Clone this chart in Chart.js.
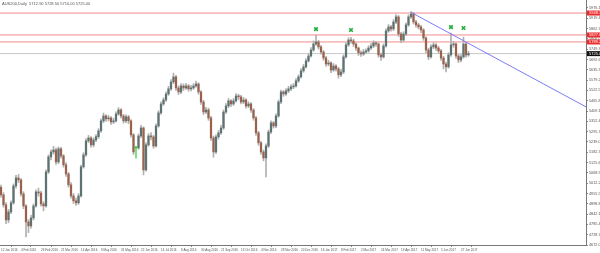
<!DOCTYPE html>
<html>
<head>
<meta charset="utf-8">
<script src="https://cdn.jsdelivr.net/npm/chart.js@4.4.1/dist/chart.umd.min.js"></script>
<style>
  html, body { margin: 0; padding: 0; background: #fff; }
  #wrap { width: 600px; height: 253px; }
</style>
</head>
<body>
<div id="wrap"><canvas id="myChart" width="600" height="253"></canvas></div>
<script>
// AUS200 daily, 2-day candles
const symbolTitle = 'AUS200,Daily  5712.90 5728.50 5710.00 5725.00';

const opens = [
  4990,4948,4893,4810,4854,4904,4997,5041,5030,4953,
  4887,4799,4777,4821,4887,4964,4958,4898,4887,5074,
  5157,5184,5195,5129,5201,5162,5113,5063,5003,4942,
  4915,4904,4942,5102,5168,5245,5261,5223,5250,5268,
  5300,5355,5382,5366,5371,5349,5355,5393,5415,5382,
  5355,5377,5355,5278,5206,5206,5272,5316,5085,5223,
  5272,5267,5217,5327,5399,5448,5470,5503,5531,5569,
  5597,5536,5514,5547,5536,5547,5531,5536,5547,5558,
  5514,5459,5404,5415,5371,5261,5184,5267,5289,5316,
  5404,5437,5465,5448,5465,5492,5487,5459,5470,5437,
  5448,5415,5371,5289,5234,5184,5151,5217,5294,5344,
  5327,5382,5459,5514,5503,5520,5531,5542,5547,5575,
  5597,5630,5652,5685,5712,5745,5778,5789,5762,5734,
  5701,5668,5674,5635,5657,5641,5608,5624,5707,5773,
  5800,5795,5778,5756,5729,5723,5734,5740,5756,5767,
  5784,5778,5718,5707,5767,5850,5872,5861,5899,5927,
  5833,5800,5833,5883,5927,5943,5899,5883,5872,5855,
  5811,5745,5707,5762,5773,5756,5740,5701,5668,5652,
  5718,5773,5778,5712,5690,5707,5778,5718
];
const closes = [
  4948,4893,4810,4854,4904,4997,5041,5030,4953,4887,
  4799,4777,4821,4887,4964,4958,4898,4887,5074,5157,
  5184,5195,5129,5201,5162,5113,5063,5003,4942,4915,
  4904,4942,5102,5168,5245,5261,5223,5250,5268,5300,
  5355,5382,5366,5371,5349,5355,5393,5415,5382,5355,
  5377,5355,5278,5184,5206,5272,5316,5085,5223,5272,
  5267,5217,5327,5399,5448,5470,5503,5531,5569,5597,
  5536,5514,5547,5536,5547,5531,5536,5547,5558,5514,
  5459,5404,5415,5371,5261,5184,5267,5289,5316,5404,
  5437,5465,5448,5465,5492,5487,5459,5470,5437,5448,
  5415,5371,5289,5234,5184,5151,5217,5294,5344,5327,
  5382,5459,5514,5503,5520,5531,5542,5547,5575,5597,
  5630,5652,5685,5712,5745,5778,5789,5762,5734,5701,
  5668,5674,5635,5657,5641,5608,5624,5707,5773,5800,
  5795,5778,5756,5729,5723,5734,5740,5756,5767,5784,
  5778,5718,5707,5767,5850,5872,5861,5899,5927,5833,
  5800,5833,5883,5927,5943,5899,5883,5872,5855,5811,
  5745,5707,5762,5773,5756,5740,5701,5668,5652,5718,
  5773,5778,5712,5690,5707,5778,5718,5725
];
const highs = [
  5002,4960,4905,4868,4915,5008,5055,5060,5038,4965,
  4895,4812,4835,4898,4975,4985,4968,4910,5085,5168,
  5196,5215,5205,5212,5210,5170,5125,5072,5015,4955,
  4930,4955,5112,5180,5258,5275,5268,5262,5280,5312,
  5366,5398,5390,5385,5378,5370,5405,5428,5422,5390,
  5388,5385,5362,5285,5215,5283,5330,5322,5235,5285,
  5290,5275,5338,5410,5460,5482,5515,5545,5582,5618,
  5605,5548,5560,5558,5562,5555,5550,5560,5574,5565,
  5522,5468,5430,5425,5380,5272,5278,5302,5330,5415,
  5450,5478,5472,5478,5505,5502,5495,5484,5478,5460,
  5455,5422,5380,5298,5242,5195,5228,5305,5355,5352,
  5394,5470,5525,5522,5532,5545,5555,5560,5588,5608,
  5642,5665,5698,5725,5758,5795,5827,5798,5770,5742,
  5710,5688,5680,5670,5665,5650,5640,5718,5785,5812,
  5815,5805,5785,5762,5740,5748,5752,5768,5780,5796,
  5792,5785,5728,5778,5862,5885,5880,5912,5940,5935,
  5842,5845,5895,5938,5956,5950,5908,5892,5880,5862,
  5818,5755,5775,5786,5780,5765,5748,5710,5678,5730,
  5838,5792,5785,5720,5720,5816,5785,5738
];
const lows = [
  4935,4880,4790,4795,4845,4896,4985,5015,4940,4872,
  4716,4740,4765,4810,4880,4940,4885,4860,4880,5065,
  5140,5172,5115,5120,5150,5100,5050,4990,4930,4900,
  4890,4895,4935,5095,5160,5235,5210,5212,5240,5258,
  5292,5345,5352,5355,5335,5340,5348,5385,5370,5342,
  5345,5340,5265,5170,5150,5198,5262,5058,5078,5215,
  5250,5205,5210,5320,5390,5440,5462,5495,5522,5560,
  5522,5500,5505,5522,5528,5518,5520,5528,5540,5502,
  5445,5390,5395,5358,5248,5155,5175,5255,5280,5308,
  5395,5428,5435,5440,5458,5472,5448,5450,5425,5428,
  5402,5358,5275,5220,5170,5135,5046,5208,5285,5315,
  5318,5375,5450,5490,5495,5510,5522,5532,5540,5566,
  5590,5622,5645,5678,5705,5738,5770,5750,5722,5688,
  5655,5658,5620,5628,5628,5590,5598,5615,5700,5765,
  5782,5765,5742,5715,5710,5715,5725,5732,5748,5758,
  5765,5705,5688,5700,5760,5842,5848,5852,5890,5820,
  5785,5792,5825,5875,5918,5888,5870,5860,5840,5798,
  5730,5692,5700,5752,5742,5728,5688,5640,5624,5645,
  5710,5760,5698,5675,5680,5700,5705,5710
];

const dateLabels = ['12 Jan 2016','4 Feb 2016','26 Feb 2016','21 Mar 2016','14 Apr 2016','9 May 2016',
  '31 May 2016','22 Jun 2016','14 Jul 2016','8 Aug 2016','30 Aug 2016','21 Sep 2016','13 Oct 2016',
  '4 Nov 2016','28 Nov 2016','20 Dec 2016','16 Jan 2017','8 Feb 2017','2 Mar 2017','24 Mar 2017',
  '19 Apr 2017','11 May 2017','5 Jun 2017','27 Jun 2017'];
const barsPerLabel = 8;

const priceTicks = [4672.00,4728.70,4785.40,4842.10,4898.80,4955.50,5012.20,5068.90,5125.60,5182.30,
  5239.00,5295.70,5352.40,5409.10,5465.80,5522.50,5579.20,5635.90,5692.60,5749.30,5806.00,5862.70,
  5919.40,5976.10];

// horizontal levels and the trend line
const redLevels = [5948.30, 5827.60, 5789.20];
const bidLevel = 5725.00;
const trendStart = { x: 164, y: 5952 };
const trendEnd = { x: 234, y: 5432 };
// green markers above swing highs
const markerX = [126, 140, 180, 185];
const markerY = [5860, 5855, 5871, 5866];

const xMin = -0.4, xMax = 234;

const wicks = highs.map((h, i) => ({ x: i, y: [lows[i], h] }));
const bodies = opens.map((o, i) => ({ x: i, y: [o, closes[i]] }));
const bodyColors = opens.map((o, i) => closes[i] > o ? '#5e7272' : (closes[i] < o ? '#9a624c' : '#33cc33'));
const wickColors = opens.map((o, i) => closes[i] === o ? '#66dd66' : '#b0b0b0');

const levelLine = (v, color) => ({
  type: 'line', data: [{ x: xMin, y: v }, { x: xMax, y: v }],
  borderColor: color, borderWidth: 1, pointRadius: 0, order: 10
});

const overlay = {
  id: 'overlay',
  afterDraw(chart) {
    const ctx = chart.ctx;
    const y = chart.scales.y;
    ctx.save();
    ctx.font = '4px "Liberation Sans"';
    ctx.fillStyle = '#555';
    ctx.textBaseline = 'middle';
    ctx.fillText(symbolTitle, 2, 4);
    const box = (v, fill) => {
      const py = y.getPixelForValue(v);
      ctx.fillStyle = fill;
      ctx.fillRect(587, py - 2.5, 13, 5);
      ctx.fillStyle = '#fff';
      ctx.fillText(v.toFixed(2), 589, py);
    };
    redLevels.forEach(v => box(v, '#ee2a2a'));
    box(bidLevel, '#111');
    ctx.restore();
  }
};

const ctx = document.getElementById('myChart').getContext('2d');
const myChart = new Chart(ctx, {
  type: 'bar',
  data: {
    datasets: [
      ...redLevels.map(v => levelLine(v, 'rgba(240,120,120,0.85)')),
      levelLine(bidLevel, '#c8c8c8'),
      { label: 'wick', data: wicks, backgroundColor: wickColors, barThickness: 1, grouped: false, order: 5 },
      { label: 'body', data: bodies, backgroundColor: bodyColors, barThickness: 1.6, minBarLength: 1, grouped: false, order: 4 },
      { type: 'line', data: [trendStart, trendEnd], borderColor: 'rgba(110,110,250,0.9)', borderWidth: 1, pointRadius: 0, order: 1 },
      { type: 'scatter', data: markerX.map((x, i) => ({ x: x, y: markerY[i] })),
        pointStyle: 'crossRot', pointRadius: 2.5, borderColor: '#1fae3a', borderWidth: 1.6, order: 0 }
    ]
  },
  options: {
    responsive: false,
    animation: false,
    devicePixelRatio: 1,
    layout: { padding: 0, autoPadding: false },
    plugins: { legend: { display: false }, tooltip: { enabled: false } },
    scales: {
      x: {
        type: 'linear', min: xMin, max: xMax, offset: false,
        afterFit: s => { s.height = 8; s.paddingLeft = 0; s.paddingRight = 0; },
        afterBuildTicks: s => { s.ticks = dateLabels.map((d, i) => ({ value: i * barsPerLabel })); },
        ticks: {
          autoSkip: false, maxRotation: 0, align: 'start', padding: 1,
          font: { size: 3, family: 'Liberation Sans' }, color: '#555',
          callback: (v, i) => dateLabels[i]
        },
        grid: { drawOnChartArea: false, drawTicks: true, tickLength: 2, color: '#888' },
        border: { display: true, color: '#777' }
      },
      y: {
        type: 'linear', position: 'right', min: 4672, max: 6020,
        afterFit: s => { s.width = 14; s.paddingTop = 0; s.paddingBottom = 0; },
        afterBuildTicks: s => { s.ticks = priceTicks.map(v => ({ value: v })); },
        ticks: {
          autoSkip: false, padding: 1,
          font: { size: 3.8, family: 'Liberation Sans' }, color: '#555',
          callback: v => v.toFixed(2)
        },
        grid: { drawOnChartArea: false, drawTicks: true, tickLength: 2, color: '#888' },
        border: { display: true, color: '#777' }
      }
    }
  },
  plugins: [overlay]
});
</script>
</body>
</html>
